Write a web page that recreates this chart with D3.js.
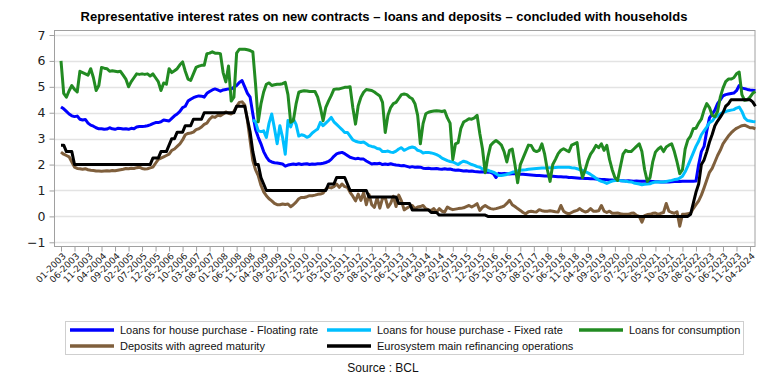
<!DOCTYPE html>
<html>
<head>
<meta charset="utf-8">
<script src="https://cdn.jsdelivr.net/npm/d3@7"></script>
<style>
  body { margin: 0; background: #fff; }
  text { font-family: "Liberation Sans", Arial, sans-serif; }
</style>
</head>
<body>
<div id="chart-area"></div>
<script>
// monthly values, 01-2003 .. 06-2024, one row per year
var startYear = 2003;

var floatingRate = [
  4.22,4.15,4.05,3.95,3.88,3.85,3.87,3.75,3.72,3.74,3.60,3.52,
  3.48,3.42,3.38,3.38,3.36,3.37,3.42,3.38,3.36,3.40,3.39,3.37,
  3.38,3.36,3.40,3.38,3.45,3.47,3.47,3.48,3.50,3.53,3.58,3.62,
  3.62,3.65,3.72,3.70,3.68,3.78,3.88,3.95,4.05,4.20,4.25,4.45,
  4.52,4.58,4.62,4.65,4.64,4.60,4.75,4.82,4.88,4.92,4.88,4.83,
  4.88,4.90,4.92,4.92,4.98,5.05,5.17,5.24,5.00,4.75,4.60,3.95,
  3.35,3.05,2.80,2.50,2.30,2.15,2.10,2.07,2.06,2.04,2.02,1.94,
  1.98,2.00,2.02,2.00,2.03,2.00,2.02,2.03,2.00,2.02,2.01,2.03,
  2.03,2.05,2.08,2.12,2.20,2.32,2.41,2.45,2.47,2.42,2.35,2.28,
  2.25,2.22,2.24,2.21,2.21,2.14,2.08,2.02,2.04,2.03,2.05,2.00,
  2.02,2.00,2.03,2.00,1.98,1.97,1.95,1.96,1.93,1.90,1.92,1.90,
  1.91,1.90,1.86,1.85,1.86,1.84,1.84,1.85,1.83,1.82,1.84,1.82,
  1.83,1.80,1.78,1.79,1.77,1.75,1.76,1.74,1.75,1.73,1.72,1.71,
  1.72,1.71,1.70,1.70,1.65,1.50,1.66,1.65,1.66,1.65,1.64,1.65,
  1.65,1.64,1.63,1.63,1.62,1.61,1.60,1.59,1.58,1.58,1.57,1.56,
  1.56,1.55,1.55,1.54,1.53,1.53,1.52,1.52,1.50,1.50,1.49,1.48,
  1.47,1.47,1.46,1.46,1.45,1.45,1.44,1.43,1.42,1.42,1.41,1.40,
  1.40,1.39,1.40,1.38,1.38,1.37,1.38,1.37,1.36,1.37,1.36,1.36,
  1.36,1.35,1.36,1.35,1.34,1.34,1.33,1.33,1.34,1.33,1.34,1.35,
  1.35,1.35,1.36,1.36,1.36,1.36,1.36,1.37,2.00,2.50,2.70,3.30,
  3.80,3.95,4.10,4.35,4.50,4.65,4.70,4.72,4.74,4.76,4.85,5.05,
  4.95,4.93,4.90,4.88,4.87,4.85
];

// fixed rate series only starts in 12-2008
var fixedStart = 71;
var fixedRate = [
  3.72,
  3.65,3.30,3.27,3.30,3.05,3.60,3.95,3.40,2.80,3.50,3.05,2.40,
  3.70,3.45,3.76,3.55,3.10,3.15,3.12,3.05,3.10,3.22,3.30,3.37,
  3.63,3.50,3.60,3.70,3.82,3.65,3.55,3.45,3.35,3.24,3.24,3.10,
  2.95,2.90,2.87,2.85,2.87,2.80,2.73,2.70,2.68,2.62,2.60,2.50,
  2.50,2.52,2.48,2.47,2.52,2.60,2.65,2.55,2.60,2.65,2.68,2.65,
  2.55,2.52,2.45,2.47,2.47,2.45,2.42,2.38,2.33,2.25,2.20,2.15,
  2.12,2.10,2.05,2.00,2.08,2.13,2.10,2.05,2.00,1.97,1.92,1.90,
  1.83,1.80,1.78,1.74,1.71,1.65,1.58,1.58,1.60,1.62,1.66,1.70,
  1.72,1.75,1.78,1.79,1.80,1.82,1.83,1.84,1.85,1.86,1.87,1.87,
  1.87,1.88,1.88,1.89,1.90,1.90,1.90,1.90,1.90,1.88,1.87,1.84,
  1.80,1.78,1.73,1.68,1.62,1.55,1.47,1.40,1.35,1.32,1.27,1.32,
  1.36,1.38,1.39,1.38,1.37,1.36,1.34,1.33,1.29,1.27,1.25,1.22,
  1.24,1.25,1.26,1.30,1.33,1.33,1.33,1.33,1.35,1.37,1.39,1.42,
  1.43,1.48,1.55,1.72,1.95,2.20,2.45,2.70,2.90,3.15,3.30,3.45,
  3.62,3.68,3.82,3.88,3.95,4.02,4.05,4.08,4.10,4.12,4.18,4.22,
  4.05,3.80,3.70,3.68,3.66,3.65
];

var consumption = [
  6.00,4.75,4.60,4.85,5.05,4.90,4.80,5.60,5.55,5.50,5.45,5.70,
  5.35,4.86,5.05,5.75,5.72,5.70,5.60,5.62,5.60,5.58,5.60,5.45,
  5.30,5.00,5.20,5.35,5.50,5.48,5.50,5.48,5.50,5.42,5.50,5.35,
  5.20,4.86,5.15,5.10,5.70,5.55,5.62,5.70,5.85,5.96,5.60,5.30,
  5.25,5.50,5.75,5.80,5.83,5.83,6.28,6.30,6.35,6.30,6.30,6.28,
  5.55,5.19,5.80,4.45,4.60,6.30,6.45,6.45,6.45,6.43,6.40,6.35,
  5.10,3.65,4.34,4.80,5.10,5.15,5.05,5.08,5.10,5.10,5.12,5.17,
  4.70,3.63,3.70,4.34,4.79,4.83,4.85,4.84,4.82,4.82,4.82,4.60,
  4.20,3.69,4.21,4.45,4.66,4.90,4.92,4.92,4.95,4.98,4.98,5.00,
  4.20,3.56,4.27,4.60,4.79,4.90,4.88,4.86,4.80,4.72,4.65,4.40,
  3.24,3.90,4.20,4.35,4.40,4.55,4.70,4.72,4.70,4.60,4.54,4.35,
  3.90,2.80,3.58,3.96,4.02,4.05,4.07,4.08,4.07,4.05,4.08,3.80,
  3.60,2.20,2.80,2.85,3.40,3.64,3.70,3.77,3.75,3.80,3.90,3.20,
  2.60,1.68,2.30,2.74,2.85,2.93,2.85,2.75,2.50,2.10,2.55,2.60,
  2.00,1.30,2.00,2.25,2.50,2.75,2.74,2.55,2.50,2.55,2.80,2.40,
  1.80,1.35,2.00,2.20,2.42,2.55,2.61,2.55,2.50,2.75,2.80,2.85,
  2.00,1.50,1.80,2.15,2.40,2.55,2.74,2.65,2.80,2.55,2.74,2.20,
  1.80,1.50,1.39,1.90,2.40,2.55,2.50,2.50,2.60,2.70,2.80,2.50,
  1.80,1.35,1.50,2.10,2.48,2.60,2.68,2.50,2.68,2.75,2.80,2.50,
  2.10,1.65,1.80,2.60,2.95,3.10,3.38,3.40,3.60,3.75,4.10,4.35,
  4.20,3.90,3.85,4.05,4.60,4.95,5.20,5.30,5.30,5.35,5.50,5.57,
  4.70,4.48,4.50,4.60,4.75,4.82
];

var deposits = [
  2.48,2.40,2.35,2.30,2.10,1.90,1.85,1.84,1.82,1.84,1.80,1.78,
  1.77,1.75,1.75,1.74,1.75,1.76,1.75,1.77,1.76,1.78,1.80,1.82,
  1.85,1.84,1.86,1.85,1.88,1.90,1.85,1.83,1.84,1.87,1.90,2.05,
  2.20,2.25,2.30,2.35,2.40,2.55,2.60,2.70,2.80,2.95,3.15,3.20,
  3.22,3.25,3.35,3.38,3.45,3.55,3.60,3.75,3.85,3.82,3.90,3.88,
  3.95,4.03,3.98,3.95,4.05,4.25,4.40,4.42,4.30,3.70,2.92,2.15,
  1.80,1.57,1.20,0.95,0.80,0.68,0.60,0.50,0.45,0.45,0.48,0.46,
  0.48,0.37,0.45,0.55,0.68,0.73,0.73,0.76,0.80,0.80,0.82,0.85,
  0.86,0.90,1.05,1.12,1.10,1.15,1.25,1.12,1.25,1.15,1.12,0.93,
  0.78,0.60,0.86,0.62,0.92,0.45,0.85,0.45,0.35,0.72,0.32,0.70,
  0.72,0.35,0.50,0.78,0.38,0.82,0.60,0.25,0.32,0.38,0.42,0.30,
  0.36,0.38,0.42,0.30,0.25,0.23,0.30,0.17,0.30,0.20,0.17,0.36,
  0.30,0.26,0.28,0.30,0.31,0.33,0.38,0.42,0.36,0.42,0.49,0.23,
  0.35,0.42,0.35,0.30,0.28,0.30,0.33,0.36,0.40,0.50,0.62,0.45,
  0.38,0.30,0.23,0.15,0.10,0.18,0.20,0.18,0.17,0.26,0.22,0.20,
  0.20,0.22,0.20,0.18,0.17,0.42,0.20,0.13,0.10,0.15,0.20,0.23,
  0.30,0.22,0.17,0.20,0.30,0.20,0.20,0.22,0.42,0.20,0.15,0.20,
  0.12,0.12,0.13,0.10,0.08,0.08,0.08,0.12,0.13,0.04,0.00,-0.22,
  0.03,0.07,0.08,0.12,0.13,0.08,0.12,0.15,0.50,0.20,0.15,0.12,
  0.18,-0.38,0.08,0.08,0.10,0.12,0.30,0.45,0.60,0.82,1.10,1.40,
  1.70,1.85,2.10,2.35,2.55,2.80,2.95,3.10,3.22,3.32,3.40,3.45,
  3.50,3.52,3.47,3.42,3.42,3.38
];

var refiRate = [
  2.75,2.75,2.50,2.50,2.50,2.00,2.00,2.00,2.00,2.00,2.00,2.00,
  2.00,2.00,2.00,2.00,2.00,2.00,2.00,2.00,2.00,2.00,2.00,2.00,
  2.00,2.00,2.00,2.00,2.00,2.00,2.00,2.00,2.00,2.00,2.25,2.25,
  2.25,2.50,2.50,2.50,2.75,3.00,3.00,3.25,3.25,3.25,3.50,3.50,
  3.50,3.75,3.75,3.75,3.75,4.00,4.00,4.00,4.00,4.00,4.00,4.00,
  4.00,4.00,4.00,4.00,4.00,4.25,4.25,4.25,4.25,3.75,3.25,2.50,
  2.00,2.00,1.50,1.25,1.00,1.00,1.00,1.00,1.00,1.00,1.00,1.00,
  1.00,1.00,1.00,1.00,1.00,1.00,1.00,1.00,1.00,1.00,1.00,1.00,
  1.00,1.00,1.00,1.25,1.25,1.25,1.50,1.50,1.50,1.50,1.25,1.00,
  1.00,1.00,1.00,1.00,1.00,1.00,0.75,0.75,0.75,0.75,0.75,0.75,
  0.75,0.75,0.75,0.75,0.75,0.50,0.50,0.50,0.50,0.50,0.25,0.25,
  0.25,0.25,0.25,0.25,0.25,0.15,0.15,0.15,0.05,0.05,0.05,0.05,
  0.05,0.05,0.05,0.05,0.05,0.05,0.05,0.05,0.05,0.05,0.05,0.05,
  0.05,0.05,0,0,0,0,0,0,0,0,0,0,
  0,0,0,0,0,0,0,0,0,0,0,0,
  0,0,0,0,0,0,0,0,0,0,0,0,
  0,0,0,0,0,0,0,0,0,0,0,0,
  0,0,0,0,0,0,0,0,0,0,0,0,
  0,0,0,0,0,0,0,0,0,0,0,0,
  0,0,0,0,0,0.08,0.50,0.93,1.25,2.00,2.18,2.50,
  2.87,3.16,3.50,3.68,3.83,4.00,4.25,4.34,4.50,4.50,4.50,4.50,
  4.50,4.50,4.50,4.50,4.42,4.25
];

var seriesNames = [
  'Loans for house purchase - Floating rate',
  'Loans for house purchase - Fixed rate',
  'Loans for consumption',
  'Deposits with agreed maturity',
  'Eurosystem main refinancing operations'
];
var seriesColors = ['#0000ff', '#00bfff', '#228b22', '#7f5f3c', '#000000'];
var yTicks = [-1, 0, 1, 2, 3, 4, 5, 6, 7];
var tickEvery = 5;

// month labels MM-YYYY
var months = floatingRate.map(function(d, i) {
  var m = i % 12 + 1;
  return (m < 10 ? '0' + m : '' + m) + '-' + (startYear + Math.floor(i / 12));
});
var xTickLabels = months.filter(function(d, i) { return i % tickEvery === 0; });

var def = {
  width: 768,
  height: 384,
  left: 54.5,
  right: 755,
  top: 30.5,
  bottom: 246.5
};

var svg = d3.select('#chart-area').append('svg')
  .attr('width', def.width)
  .attr('height', def.height);

var x = d3.scalePoint()
  .domain(months)
  .range([61, 755.4]);

var y = d3.scaleLinear()
  .domain([-1, 7])
  .range([242.3, 35]);

// title
svg.append('text')
  .attr('x', 384)
  .attr('y', 21)
  .attr('text-anchor', 'middle')
  .attr('font-size', '13px')
  .attr('font-weight', 'bold')
  .text('Representative interest rates on new contracts \u2013 loans and deposits \u2013 concluded with households');

// gridlines
svg.append('g')
  .selectAll('line')
  .data(yTicks)
  .enter().append('line')
  .attr('x1', def.left)
  .attr('x2', def.right)
  .attr('y1', function(d) { return Math.round(y(d)) + 0.5; })
  .attr('y2', function(d) { return Math.round(y(d)) + 0.5; })
  .attr('stroke', '#e3e3e3')
  .attr('stroke-width', 1.5);

// y axis
var yAxis = svg.append('g')
  .attr('transform', 'translate(' + def.left + ',0)')
  .call(d3.axisLeft(y).tickValues(yTicks).tickSize(5).tickPadding(4).tickFormat(d3.format('d')));
yAxis.select('.domain').remove();
yAxis.selectAll('line').attr('stroke', '#a0a0a0');
yAxis.selectAll('text')
  .attr('font-size', '12.5px')
  .attr('fill', '#222')
  .style('font-family', '"DejaVu Sans", sans-serif');

// x axis
var xAxis = svg.append('g')
  .attr('transform', 'translate(0,' + def.bottom + ')')
  .call(d3.axisBottom(x).tickValues(xTickLabels).tickSize(5).tickPadding(3));
xAxis.select('.domain').remove();
xAxis.selectAll('line').attr('stroke', '#a0a0a0');
xAxis.selectAll('text')
  .attr('font-size', '9px')
  .attr('fill', '#222')
  .attr('text-anchor', 'end')
  .attr('dx', '2px')
  .attr('dy', '5px')
  .attr('y', 0)
  .attr('transform', 'translate(0,8) rotate(-45)')
  .style('font-family', '"DejaVu Sans", sans-serif');

// plot frame
svg.append('rect')
  .attr('x', def.left)
  .attr('y', def.top)
  .attr('width', def.right - def.left)
  .attr('height', def.bottom - def.top)
  .attr('fill', 'none')
  .attr('stroke', '#a0a0a0');

// lines
function toPoints(arr, offset) {
  return arr.map(function(v, i) { return { m: months[i + offset], v: v }; });
}
var allSeries = [
  toPoints(floatingRate, 0),
  toPoints(fixedRate, fixedStart),
  toPoints(consumption, 0),
  toPoints(deposits, 0),
  toPoints(refiRate, 0)
];

var line = d3.line()
  .x(function(d) { return x(d.m); })
  .y(function(d) { return y(d.v); });

svg.append('g')
  .selectAll('path')
  .data(allSeries)
  .enter().append('path')
  .attr('d', line)
  .attr('fill', 'none')
  .attr('stroke', function(d, i) { return seriesColors[i]; })
  .attr('stroke-width', 3)
  .attr('stroke-linejoin', 'round');

// legend
svg.append('rect')
  .attr('x', 65.5)
  .attr('y', 321.5)
  .attr('width', 678)
  .attr('height', 33)
  .attr('fill', 'none')
  .attr('stroke', '#cfcfcf');

var legendPos = [[70, 330], [327, 330], [579, 330], [70, 346], [327, 346]];
var legend = svg.append('g')
  .selectAll('g')
  .data(seriesNames)
  .enter().append('g')
  .attr('transform', function(d, i) { return 'translate(' + legendPos[i][0] + ',' + legendPos[i][1] + ')'; });
legend.append('line')
  .attr('x1', 0).attr('x2', 44)
  .attr('stroke', function(d, i) { return seriesColors[i]; })
  .attr('stroke-width', 3.5);
legend.append('text')
  .attr('x', 50)
  .attr('dy', '0.35em')
  .attr('font-size', '11px')
  .attr('fill', '#111')
  .text(function(d) { return d; });

// source
svg.append('text')
  .attr('x', 383)
  .attr('y', 372)
  .attr('text-anchor', 'middle')
  .attr('font-size', '12px')
  .attr('fill', '#111')
  .text('Source : BCL');
</script>
</body>
</html>
